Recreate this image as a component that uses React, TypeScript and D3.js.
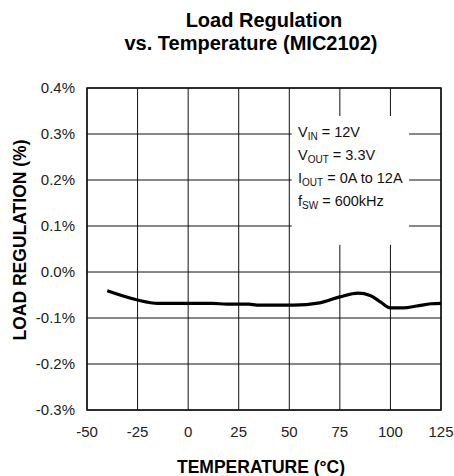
import React from "react";
import * as d3 from "d3";

const W = 454;
const H = 476;
const M = { l: 87, r: 13, t: 88, b: 66 };

const temps = [-40, -25, -15, 0, 12, 19, 30, 34, 52, 65, 75, 84, 90, 95, 100, 106, 113, 120, 125];
const regulation = [
  -0.041, -0.061, -0.068, -0.068, -0.068, -0.07, -0.07, -0.072, -0.072, -0.067, -0.054,
  -0.046, -0.051, -0.065, -0.078, -0.078, -0.074, -0.069, -0.068,
];
const xTicks = [-50, -25, 0, 25, 50, 75, 100, 125];
const yTicks = [0.4, 0.3, 0.2, 0.1, 0.0, -0.1, -0.2, -0.3];

const FONT = "'Liberation Sans', Arial, Helvetica, sans-serif";

export default function App() {
  const x = d3.scaleLinear().domain([-50, 125]).range([M.l, W - M.r]);
  const y = d3.scaleLinear().domain([-0.3, 0.4]).range([H - M.b, M.t]);

  const line = d3
    .line<number>()
    .x((_, i) => x(temps[i]))
    .y((d) => y(d))
    .curve(d3.curveMonotoneX);

  // white box that hides the grid behind the conditions note
  const box = { x0: x(51.2), x1: x(109.2), y0: y(0.339), y1: y(0.059) };

  return (
    <div style={{ position: "fixed", left: 0, top: 0 }}>
      <svg width={W} height={H} style={{ display: "block", background: "#fff" }}>
        <text x={264} y={27} textAnchor="middle" fontFamily={FONT} fontWeight="bold" fontSize={20}>
          Load Regulation
        </text>
        <text x={251} y={50} textAnchor="middle" fontFamily={FONT} fontWeight="bold" fontSize={20}>
          vs. Temperature (MIC2102)
        </text>

        {xTicks.map((t) => (
          <line key={"gx" + t} x1={x(t)} x2={x(t)} y1={M.t} y2={H - M.b} stroke="#111" strokeWidth={1} />
        ))}
        {yTicks.map((t) => (
          <line key={"gy" + t} x1={M.l} x2={W - M.r} y1={y(t)} y2={y(t)} stroke="#111" strokeWidth={1} />
        ))}

        <rect x={box.x0} y={box.y0} width={box.x1 - box.x0} height={box.y1 - box.y0} fill="#fff" />

        <rect
          x={M.l}
          y={M.t}
          width={W - M.r - M.l}
          height={H - M.b - M.t}
          fill="none"
          stroke="#111"
          strokeWidth={1.5}
        />

        <path d={line(regulation) ?? ""} fill="none" stroke="#000" strokeWidth={3.2} strokeLinejoin="round" />

        {yTicks.map((t) => (
          <text
            key={"ty" + t}
            x={75}
            y={y(t) + 5}
            textAnchor="end"
            fontFamily={FONT}
            fontSize={15}
            fill="#222"
          >
            {t.toFixed(1) + "%"}
          </text>
        ))}
        {xTicks.map((t) => (
          <text
            key={"tx" + t}
            x={x(t)}
            y={437}
            textAnchor="middle"
            fontFamily={FONT}
            fontSize={15}
            fill="#222"
          >
            {t}
          </text>
        ))}

        <text x={261} y={473} textAnchor="middle" fontFamily={FONT} fontWeight="bold" fontSize={17.5}>
          TEMPERATURE (°C)
        </text>
        <text
          transform={`translate(26,240) rotate(-90)`}
          textAnchor="middle"
          fontFamily={FONT}
          fontWeight="bold"
          fontSize={17.5}
        >
          LOAD REGULATION (%)
        </text>

        <g fontFamily={FONT} fontSize={14.5} fill="#111">
          <text x={298} y={137}>
            V<tspan fontSize={10} dy={3}>IN</tspan>
            <tspan dy={-3}> = 12V</tspan>
          </text>
          <text x={298} y={160}>
            V<tspan fontSize={10} dy={3}>OUT</tspan>
            <tspan dy={-3}> = 3.3V</tspan>
          </text>
          <text x={298} y={183}>
            I<tspan fontSize={10} dy={3}>OUT</tspan>
            <tspan dy={-3}> = 0A to 12A</tspan>
          </text>
          <text x={298} y={206}>
            f<tspan fontSize={10} dy={3}>SW</tspan>
            <tspan dy={-3}> = 600kHz</tspan>
          </text>
        </g>
      </svg>
    </div>
  );
}
